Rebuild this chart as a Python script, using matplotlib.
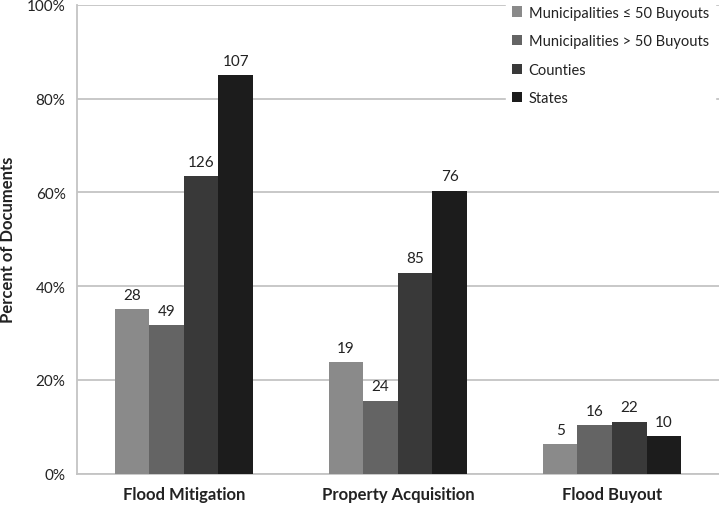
import matplotlib.pyplot as plt
import numpy as np

plt.rcParams['font.family'] = ['Lato', 'DejaVu Sans']

categories = ["Flood Mitigation", "Property Acquisition", "Flood Buyout"]
series = ["Municipalities \u2264 50 Buyouts", "Municipalities > 50 Buyouts", "Counties", "States"]
colors = ["#8a8a8a", "#646464", "#393939", "#1c1c1c"]

# percent of documents per series
pct_mun_small = [35.1, 23.8, 6.3]
pct_mun_large = [31.7, 15.5, 10.3]
pct_counties = [63.4, 42.8, 11.1]
pct_states = [85.0, 60.3, 8.0]
values = [pct_mun_small, pct_mun_large, pct_counties, pct_states]

# document counts shown above bars
cnt_mun_small = [28, 19, 5]
cnt_mun_large = [49, 24, 16]
cnt_counties = [126, 85, 22]
cnt_states = [107, 76, 10]
counts = [cnt_mun_small, cnt_mun_large, cnt_counties, cnt_states]

fig = plt.figure(figsize=(7.19, 5.06), dpi=100)
ax = fig.add_axes([0.1067, 0.0619, 0.8933, 0.9268])

x = np.arange(len(categories))
w = 0.1615
for i, (vals, cnts) in enumerate(zip(values, counts)):
    pos = x + (i - 1.5) * w
    bars = ax.bar(pos, vals, width=w, color=colors[i], label=series[i], zorder=3)
    for b, c in zip(bars, cnts):
        ax.text(b.get_x() + b.get_width() / 2, b.get_height() + 1.6, str(c),
                ha='center', va='bottom', fontsize=11, color='#222222')

ax.set_xlim(-0.5, 2.5)
ax.set_ylim(0, 100)
ax.set_yticks(range(0, 101, 20))
ax.set_yticklabels([f"{v}%" for v in range(0, 101, 20)], fontsize=11, color='#222222')
ax.set_xticks(x)
ax.set_xticklabels(categories, fontsize=12, fontweight='bold', color='#222222')
ax.tick_params(length=0, pad=8)
ax.tick_params(axis='x', pad=9)
ax.grid(axis='y', color='#c4c4c4', linewidth=1.3, zorder=0)
for s in ['top', 'right']:
    ax.spines[s].set_visible(False)
for s in ['left', 'bottom']:
    ax.spines[s].set_color('#c4c4c4')
    ax.spines[s].set_linewidth(1.3)
ax.set_ylabel("Percent of Documents", fontsize=12, fontweight='bold', color='#222222',
              va='center')
ax.yaxis.set_label_coords(-0.107, 0.5)

leg = ax.legend(loc='upper right', bbox_to_anchor=(1.0, 1.02), frameon=True, fontsize=10.5,
                handlelength=0.7, handleheight=0.7, handletextpad=0.45, labelspacing=1.0,
                borderpad=0.4, borderaxespad=0.3, fancybox=False)
leg.get_frame().set_facecolor('white')
leg.get_frame().set_edgecolor('white')
leg.get_frame().set_alpha(1.0)
leg.set_zorder(5)
for t in leg.get_texts():
    t.set_color('#222222')

fig.savefig("out.png", dpi=100)
